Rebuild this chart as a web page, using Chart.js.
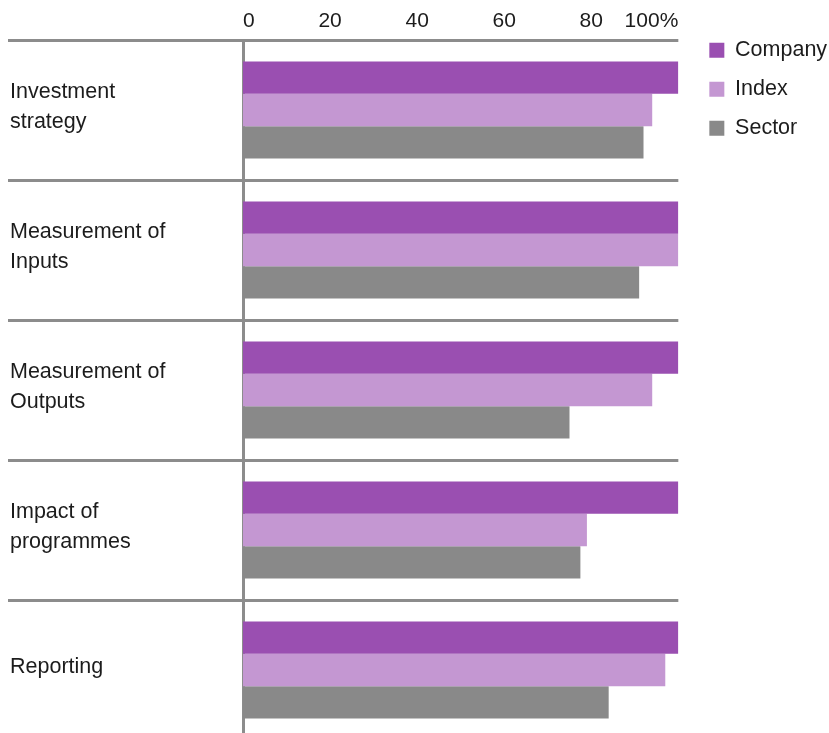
<!DOCTYPE html>
<html>
<head>
<meta charset="utf-8">
<script src="https://cdn.jsdelivr.net/npm/chart.js@4/dist/chart.umd.min.js"></script>
<style>
  html, body { margin: 0; padding: 0; background: #ffffff; overflow: hidden; }
  #wrap { width: 829px; height: 733px; overflow: hidden; }
  canvas { display: block; }
</style>
</head>
<body>
<div id="wrap"><canvas id="chart" width="829" height="740"></canvas></div>
<script>
// Survey areas (multi-line labels on the category axis)
const categories = [
  ['Investment', 'strategy'],
  ['Measurement of', 'Inputs'],
  ['Measurement of', 'Outputs'],
  ['Impact of', 'programmes'],
  ['Reporting']
];

// Scores in percent
const companyValues = [100, 100, 100, 100, 100];
const indexValues   = [94, 100, 94, 79, 97];
const sectorValues  = [92, 91, 75, 77.5, 84];

const seriesNames = ['Company', 'Index', 'Sector'];
const seriesColors = ['#9a4fb1', '#c497d2', '#898989'];

// Percentage axis ticks
const xTicks = [0, 20, 40, 60, 80, 100];

const FONT = "'Liberation Sans', Arial, Helvetica, sans-serif";
const RULE = '#8c8c8c';
const INK = '#1c1c1c';

// Moves the legend block (and its clip box) into the right-hand margin
const legendShift = {
  id: 'legendShift',
  afterLayout(chart) {
    const lg = chart.legend;
    if (!lg) return;
    const dx = 13.5, dy = 22;
    lg.left += dx;
    lg.right += dx;
    lg.top += dy;
    lg.bottom += dy;
  }
};

new Chart(document.getElementById('chart'), {
  type: 'bar',
  data: {
    labels: categories,
    datasets: [
      { label: seriesNames[0], data: companyValues, backgroundColor: seriesColors[0] },
      { label: seriesNames[1], data: indexValues,   backgroundColor: seriesColors[1] },
      { label: seriesNames[2], data: sectorValues,  backgroundColor: seriesColors[2] }
    ]
  },
  options: {
    indexAxis: 'y',
    responsive: false,
    animation: false,
    devicePixelRatio: 1,
    layout: { padding: { left: 10, right: 5.4, top: 0, bottom: 0 } },
    datasets: {
      bar: { barPercentage: 1.0, categoryPercentage: 0.693, borderWidth: 0 }
    },
    scales: {
      x: {
        position: 'top',
        min: 0,
        max: 100,
        afterBuildTicks(scale) {
          scale.ticks = xTicks.map(v => ({ value: v }));
        },
        afterFit(scale) { scale.height = 40; },
        grid: { display: false, drawTicks: false },
        border: { display: false },
        ticks: {
          align: 'inner',
          padding: 6,
          color: INK,
          font: { family: FONT, size: 21 },
          callback: v => (v === 100 ? '100%' : String(v))
        }
      },
      y: {
        position: 'left',
        offset: true,
        afterFit(scale) {
          scale.width = 233;
          // rows are offset, so labels never overhang the plot edges
          scale.paddingTop = 0;
          scale.paddingBottom = 0;
        },
        grid: {
          offset: true,
          color: RULE,
          lineWidth: 3,
          drawTicks: true,
          tickLength: 235,
          tickColor: RULE,
          tickWidth: 3
        },
        border: { display: true, color: RULE, width: 3 },
        ticks: {
          crossAlign: 'far',
          padding: 0,
          labelOffset: -3,
          color: INK,
          font: { family: FONT, size: 21.5, lineHeight: 1.4 }
        }
      }
    },
    plugins: {
      legend: {
        position: 'right',
        align: 'start',
        labels: {
          boxWidth: 15,
          boxHeight: 15,
          padding: 17.5,
          color: INK,
          font: { family: FONT, size: 21.5 }
        }
      },
      tooltip: { enabled: false }
    }
  },
  plugins: [legendShift]
});
</script>
</body>
</html>
